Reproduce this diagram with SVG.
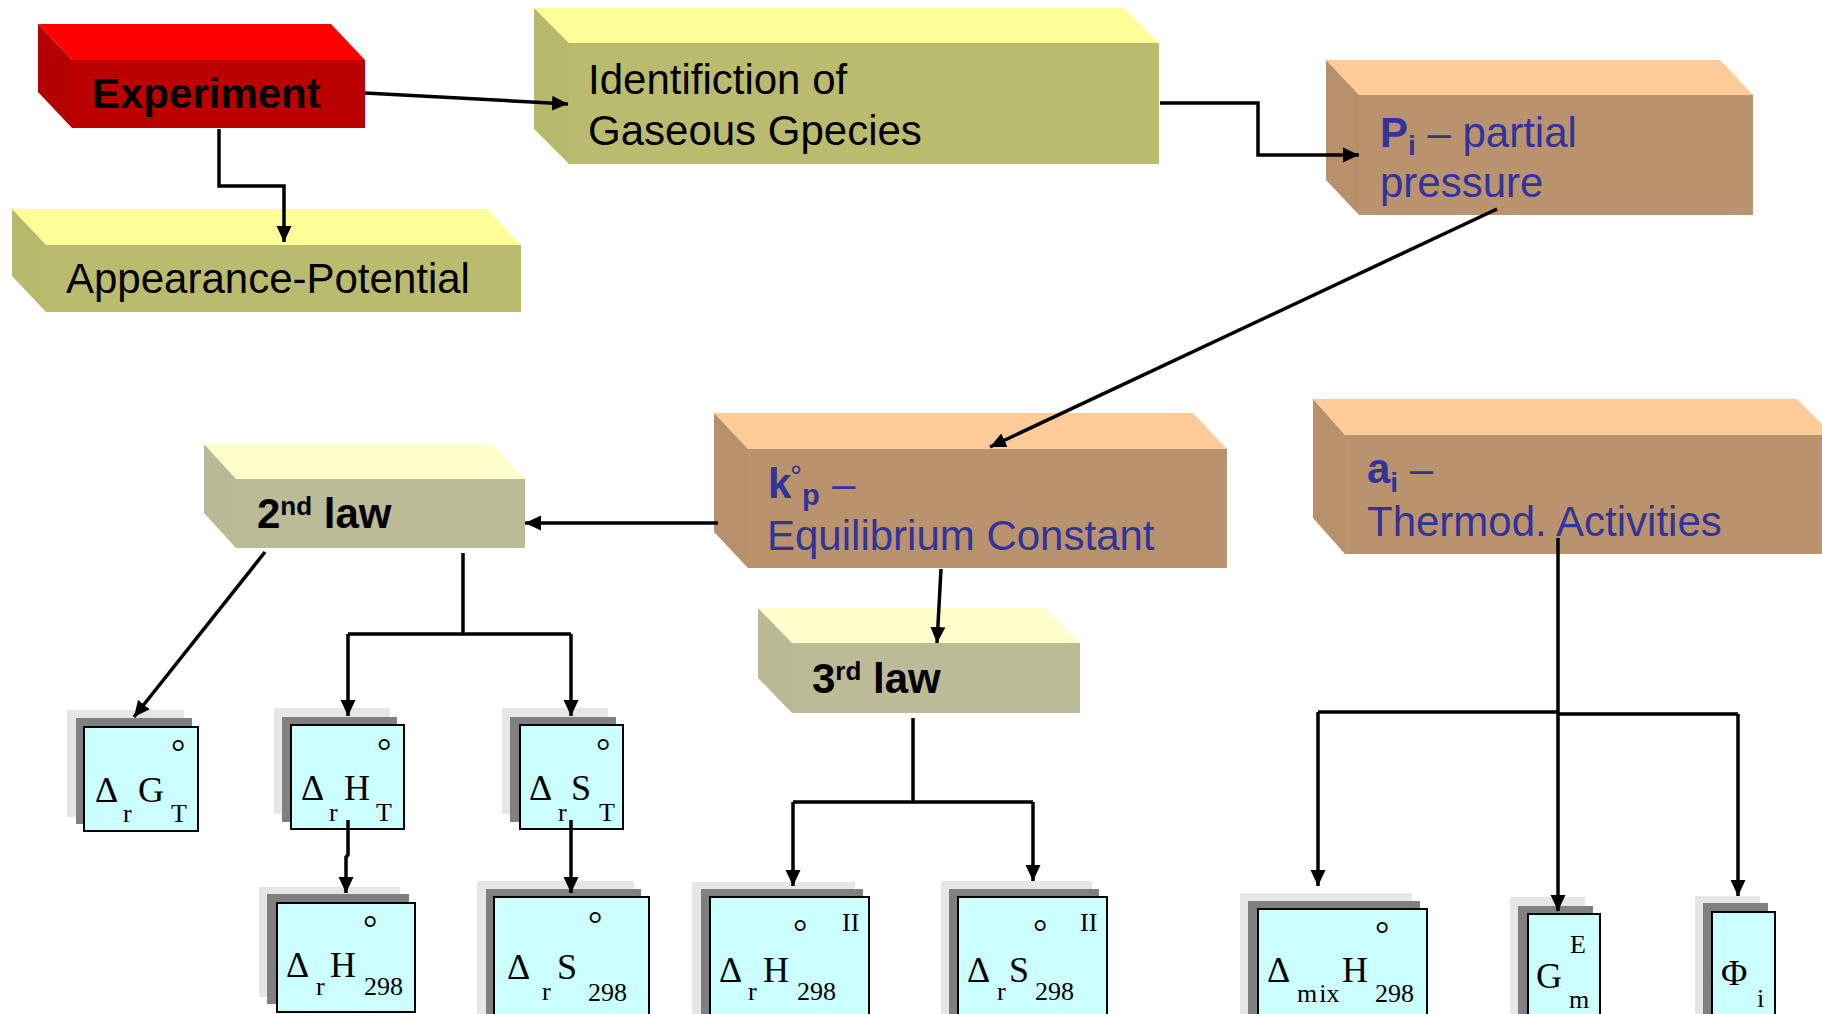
<svg xmlns="http://www.w3.org/2000/svg" width="1822" height="1014" viewBox="0 0 1822 1014">
<style>
.lbl{font-family:"Liberation Sans",Arial,sans-serif;font-size:42px;fill:#000}
.blue{fill:#333399}
.b{font-weight:bold}
.m{font-family:"Liberation Serif","Times New Roman",serif;font-size:36px;fill:#000}
.s{font-size:26px}
.red .t{fill:#FF0000}.red .f{fill:#BB0000}.red .l{fill:#B30000}
.olv .t{fill:#FFFF99}.olv .f{fill:#BBBB70}.olv .l{fill:#B9B96E}
.pch .t{fill:#FFCC99}.pch .f{fill:#B9936E}.pch .l{fill:#B8906B}
.law .t{fill:#FFFFCC}.law .f{fill:#BBBB97}.law .l{fill:#B9B995}
.c1{fill:#E6E6E6}.c2{fill:#808080}.c3{fill:#CCFFFF;stroke:#000;stroke-width:2}
.con{fill:none;stroke:#000;stroke-width:3.5}
</style>
<defs>
<marker id="ah" markerUnits="userSpaceOnUse" markerWidth="17" markerHeight="17" viewBox="0 0 17 17" refX="16" refY="8.5" orient="auto">
<path d="M0,1 L16,8.5 L0,16 Z" fill="#000"/>
</marker>
</defs>

<g id="experiment" class="red">
<polygon class="t" points="38,24 331,24 365,60 72,60"/>
<polygon class="l" points="38,24 72,60 72,128 38,92"/>
<rect class="f" x="72" y="60" width="293" height="68"/>
<text class="lbl b" x="92" y="108" font-size="41.5">Experiment</text>
</g>

<g id="identification" class="olv">
<polygon class="t" points="534,8 1124,8 1159,43 569,43"/>
<polygon class="l" points="534,8 569,43 569,164 534,129"/>
<rect class="f" x="569" y="43" width="590" height="121"/>
<text class="lbl" x="588" y="94" font-size="43.5">Identifiction of</text>
<text class="lbl" x="588" y="145" font-size="43.5">Gaseous Gpecies</text>
</g>

<g id="appearance" class="olv">
<polygon class="t" points="12,209 487,209 521,245 46,245"/>
<polygon class="l" points="12,209 46,245 46,312 12,276"/>
<rect class="f" x="46" y="245" width="475" height="67"/>
<text class="lbl" x="66" y="293" font-size="42.4">Appearance-Potential</text>
</g>

<g id="partial-pressure" class="pch">
<polygon class="t" points="1326,60 1720,60 1753,95 1359,95"/>
<polygon class="l" points="1326,60 1359,95 1359,215 1326,180"/>
<rect class="f" x="1359" y="95" width="394" height="120"/>
<text class="lbl blue" x="1380" y="147"><tspan class="b">P</tspan><tspan class="b" font-size="28" dy="8">i</tspan><tspan dy="-8"> – partial</tspan></text>
<text class="lbl blue" x="1380" y="197">pressure</text>
</g>

<g id="kp" class="pch">
<polygon class="t" points="714,413 1193,413 1227,449 748,449"/>
<polygon class="l" points="714,413 748,449 748,568 714,532"/>
<rect class="f" x="748" y="449" width="479" height="119"/>
<text class="lbl blue" y="498"><tspan class="b" x="768">k</tspan><tspan x="790" font-size="30" dy="-12">°</tspan><tspan class="b" x="802" font-size="29" dy="19">p</tspan><tspan x="832" dy="-7">–</tspan></text>
<text class="lbl blue" x="767" y="550">Equilibrium Constant</text>
</g>

<g id="activities" class="pch">
<polygon class="t" points="1313,399 1797,399 1833,435 1345,435"/>
<polygon class="l" points="1313,399 1345,435 1345,554 1313,518"/>
<rect class="f" x="1345" y="435" width="490" height="119"/>
<text class="lbl blue" x="1367" y="483"><tspan class="b">a</tspan><tspan class="b" font-size="28" dy="9">i</tspan><tspan dy="-9"> –</tspan></text>
<text class="lbl blue" x="1367" y="536" font-size="43">Thermod. Activities</text>
</g>

<g id="second-law" class="law">
<polygon class="t" points="204,444 491,444 525,479 236,479"/>
<polygon class="l" points="204,444 236,479 236,548 204,513"/>
<rect class="f" x="236" y="479" width="289" height="69"/>
<text class="lbl b" x="257" y="528" font-size="40">2<tspan font-size="26" dy="-13">nd</tspan><tspan dy="13"> law</tspan></text>
</g>

<g id="third-law" class="law">
<polygon class="t" points="758,608 1045,608 1080,643 792,643"/>
<polygon class="l" points="758,608 792,643 792,713 758,678"/>
<rect class="f" x="792" y="643" width="288" height="70"/>
<text class="lbl b" x="812" y="693" font-size="40.5">3<tspan font-size="26" dy="-13">rd</tspan><tspan dy="13"> law</tspan></text>
</g>

<g id="drGT">
<rect class="c1" x="67" y="710" width="117" height="107"/>
<rect class="c2" x="76" y="718" width="116" height="106"/>
<rect class="c3" x="84" y="727" width="114" height="104"/>
<text class="m" x="95" y="802">Δ</text><text class="m s" x="123" y="822">r</text>
<text class="m" x="138" y="802">G</text><text class="m s" x="171" y="822">T</text>
<text class="m" x="171" y="764" font-size="20">°</text>
</g>

<g id="drHT">
<rect class="c1" x="274" y="708" width="116" height="106"/>
<rect class="c2" x="282" y="717" width="115" height="105"/>
<rect class="c3" x="291" y="725" width="113" height="104"/>
<text class="m" x="301" y="800">Δ</text><text class="m s" x="329" y="821">r</text>
<text class="m" x="344" y="800">H</text><text class="m s" x="376" y="821">T</text>
<text class="m" x="377" y="763" font-size="20">°</text>
</g>

<g id="drST">
<rect class="c1" x="502" y="708" width="106" height="106"/>
<rect class="c2" x="510" y="717" width="106" height="105"/>
<rect class="c3" x="520" y="725" width="103" height="104"/>
<text class="m" x="529" y="800">Δ</text><text class="m s" x="558" y="821">r</text>
<text class="m" x="571" y="800">S</text><text class="m s" x="599" y="821">T</text>
<text class="m" x="596" y="763" font-size="20">°</text>
</g>

<g id="drH298">
<rect class="c1" x="259" y="887" width="141" height="110"/>
<rect class="c2" x="267" y="894" width="142" height="110"/>
<rect class="c3" x="277" y="903" width="138" height="109"/>
<text class="m" x="286" y="977">Δ</text><text class="m s" x="316" y="995">r</text>
<text class="m" x="330" y="977">H</text><text class="m s" x="364" y="995">298</text>
<text class="m" x="363" y="940" font-size="20">°</text>
</g>

<g id="drS298">
<rect class="c1" x="477" y="881" width="157" height="140"/>
<rect class="c2" x="486" y="889" width="155" height="140"/>
<rect class="c3" x="494" y="897" width="155" height="140"/>
<text class="m" x="507" y="979" font-size="37">Δ</text><text class="m s" x="542" y="1000" font-size="29">r</text>
<text class="m" x="557" y="979" font-size="44">S</text><text class="m s" x="588" y="1001" font-size="31">298</text>
<text class="m" x="588" y="936" font-size="21">°</text>
</g>

<g id="drH298-II">
<rect class="c1" x="692" y="882" width="163" height="140"/>
<rect class="c2" x="701" y="889" width="162" height="140"/>
<rect class="c3" x="710" y="897" width="159" height="140"/>
<text class="m" x="719" y="982">Δ</text><text class="m s" x="748" y="1000">r</text>
<text class="m" x="763" y="982">H</text><text class="m s" x="797" y="1000">298</text>
<text class="m" x="793" y="944" font-size="20">°</text>
<text class="m s" x="842" y="931">II</text>
</g>

<g id="drS298-II">
<rect class="c1" x="941" y="881" width="151" height="140"/>
<rect class="c2" x="949" y="889" width="150" height="140"/>
<rect class="c3" x="958" y="897" width="149" height="140"/>
<text class="m" x="967" y="982">Δ</text><text class="m s" x="997" y="1000">r</text>
<text class="m" x="1009" y="982">S</text><text class="m s" x="1035" y="1000">298</text>
<text class="m" x="1033" y="944" font-size="20">°</text>
<text class="m s" x="1080" y="931">II</text>
</g>

<g id="dmixH298">
<rect class="c1" x="1240" y="893" width="172" height="140"/>
<rect class="c2" x="1248" y="901" width="172" height="140"/>
<rect class="c3" x="1258" y="909" width="169" height="140"/>
<text class="m" x="1267" y="982">Δ</text><text class="m s" x="1297" y="1002">m<tspan dx="2">ix</tspan></text>
<text class="m" x="1342" y="982">H</text><text class="m s" x="1375" y="1002">298</text>
<text class="m" x="1375" y="946" font-size="20">°</text>
</g>

<g id="GEm">
<rect class="c1" x="1510" y="897" width="75" height="140"/>
<rect class="c2" x="1518" y="906" width="75" height="140"/>
<rect class="c3" x="1528" y="914" width="72" height="140"/>
<text class="m" x="1536" y="988" font-size="40">G</text>
<text class="m s" x="1570" y="953">E</text>
<text class="m s" x="1569" y="1008">m</text>
</g>

<g id="Phi-i">
<rect class="c1" x="1695" y="896" width="65" height="140"/>
<rect class="c2" x="1703" y="903" width="65" height="140"/>
<rect class="c3" x="1712" y="912" width="63" height="140"/>
<text class="m" x="1721" y="985">Φ</text>
<text class="m s" x="1757" y="1007">i</text>
</g>

<g id="connectors">
<path class="con" d="M365,93 L568,104" marker-end="url(#ah)"/>
<path class="con" d="M219,129 L219,186 L284,186 L284,242" marker-end="url(#ah)"/>
<path class="con" d="M1160,103 L1258,103 L1258,155 L1359,155" marker-end="url(#ah)"/>
<path class="con" d="M1497,209 L990,447" marker-end="url(#ah)"/>
<path class="con" d="M718,523 L525,523" marker-end="url(#ah)"/>
<path class="con" d="M941,569 L937,643" marker-end="url(#ah)"/>
<path class="con" d="M265,552 L134,717" marker-end="url(#ah)"/>
<path class="con" d="M463,553 L463,634 M348,634 L571,634"/>
<path class="con" d="M348,634 L348,716" marker-end="url(#ah)"/>
<path class="con" d="M571,634 L571,716" marker-end="url(#ah)"/>
<path class="con" d="M348,820 L348,855 L346,857 L346,893" marker-end="url(#ah)"/>
<path class="con" d="M571,820 L571,893" marker-end="url(#ah)"/>
<path class="con" d="M913,718 L913,802 M793,802 L1033,802"/>
<path class="con" d="M793,802 L793,886" marker-end="url(#ah)"/>
<path class="con" d="M1033,802 L1033,881" marker-end="url(#ah)"/>
<path class="con" d="M1558,538 L1558,911" marker-end="url(#ah)"/>
<path class="con" d="M1318,712 L1558,712 M1558,714 L1738,714"/>
<path class="con" d="M1318,712 L1318,886" marker-end="url(#ah)"/>
<path class="con" d="M1738,714 L1738,896" marker-end="url(#ah)"/>
</g>
</svg>
